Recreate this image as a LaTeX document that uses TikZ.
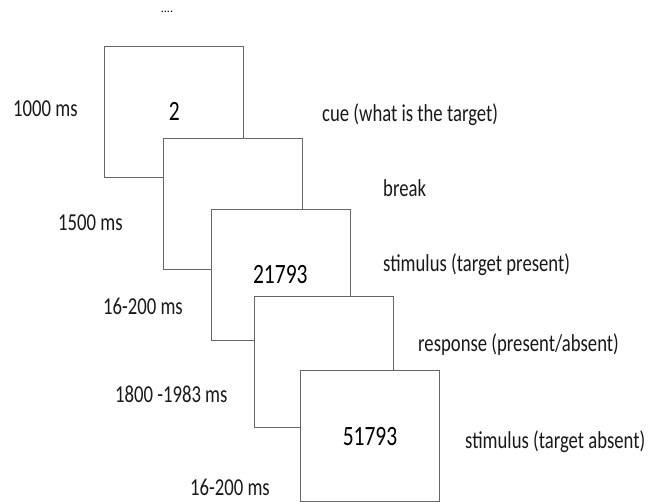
\documentclass[tikz,border=0pt]{standalone}
\usepackage{fontspec}
\setmainfont{Carlito}

\newcommand{\tall}[1]{\scalebox{1}[1.3]{#1}}

\begin{document}
\begin{tikzpicture}[x = 1pt, y = -1pt,
  frame/.style = {draw = black!60, fill = white, line width = .6pt, minimum width = 139pt, minimum height = 131pt, inner sep = 0pt, font = \fontsize{21.5}{24}\selectfont},
  lbl/.style = {anchor = west, inner sep = 0pt, text = black!90, font = \fontsize{18.7}{20}\selectfont}]
\useasboundingbox (0,0) rectangle (664,501);
\clip (0,0) rectangle (664,501);
\node[inner sep = 0pt, font = \fontsize{12}{12}\selectfont] (more) at (167,12) {....};
\node[frame] (cue) at (174.2,111.5) {\tall{2}};
\node[frame] (pause) at (232.7,203.5) {};
\node[frame] (present) at (280.3,274.7) {\tall{21793}};
\node[frame] (answer) at (324,362) {};
\node[frame] (absent) at (370,436.2) {\tall{51793}};
\node[lbl] (tcue) at (13,109) {\tall{1000 ms}};
\node[lbl] (tpause) at (58,223) {\tall{1500 ms}};
\node[lbl] (tpresent) at (103,306) {\tall{16-200 ms}};
\node[lbl] (tanswer) at (115,394) {\tall{1800 -1983 ms}};
\node[lbl] (tabsent) at (190,487) {\tall{16-200 ms}};
\node[lbl] (dcue) at (322,115) {\tall{cue (what is the target)}};
\node[lbl] (dpause) at (383,188) {\tall{break}};
\node[lbl] (dpresent) at (383,265) {\tall{stimulus (target present)}};
\node[lbl] (danswer) at (418,345) {\tall{response (present/absent)}};
\node[lbl] (dabsent) at (465,442) {\tall{stimulus (target absent)}};
\end{tikzpicture}
\end{document}
